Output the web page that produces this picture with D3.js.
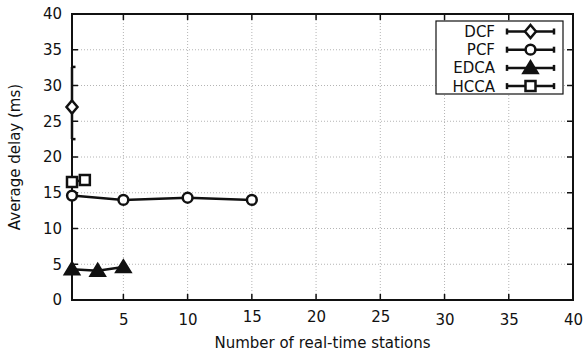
<!DOCTYPE html>
<html>
<head>
<meta charset="utf-8">
<script src="https://cdn.jsdelivr.net/npm/d3@7"></script>
<style>
body { margin: 0; background: #fff; }
</style>
</head>
<body>
<script>
// data
var seriesNames = ["DCF", "PCF", "EDCA", "HCCA"];
var markerTypes = ["diamond", "circle", "triangle", "square"];
var dcfX = [1], dcfY = [27], dcfLow = [22.5], dcfHigh = [32.6];
var pcfX = [1, 5, 10, 15], pcfY = [14.6, 14.0, 14.3, 14.0];
var edcaX = [1, 3, 5], edcaY = [4.3, 4.1, 4.6];
var hccaX = [1, 2], hccaY = [16.5, 16.8];
var xTicks = [5, 10, 15, 20, 25, 30, 35, 40];
var yTicks = [0, 5, 10, 15, 20, 25, 30, 35, 40];

var series = [
  {name: "DCF", x: dcfX, y: dcfY, lo: dcfLow, hi: dcfHigh},
  {name: "PCF", x: pcfX, y: pcfY},
  {name: "EDCA", x: edcaX, y: edcaY},
  {name: "HCCA", x: hccaX, y: hccaY}
];

var W = 587, H = 356;
var margin = {top: 14, right: 14, bottom: 56, left: 72},
    plotW = W - margin.left - margin.right,
    plotH = H - margin.top - margin.bottom;
var ink = "#111";
var fontFam = "DejaVu Sans, sans-serif";

var xs = d3.scaleLinear().domain([1, 40]).range([margin.left, margin.left + plotW]);
var ys = d3.scaleLinear().domain([0, 40]).range([margin.top + plotH, margin.top]);

var svg = d3.select("body").append("svg")
    .attr("width", W).attr("height", H);

// dotted grid
svg.append("g").selectAll("line").data(xTicks.slice(0, -1)).enter().append("line")
    .attr("x1", d => xs(d)).attr("x2", d => xs(d))
    .attr("y1", ys(40)).attr("y2", ys(0))
    .attr("stroke", "#b4b4b4").attr("stroke-width", 1).attr("stroke-dasharray", "1,2");
svg.append("g").selectAll("line").data(yTicks.slice(1, -1)).enter().append("line")
    .attr("y1", d => ys(d)).attr("y2", d => ys(d))
    .attr("x1", xs(1)).attr("x2", xs(40))
    .attr("stroke", "#b4b4b4").attr("stroke-width", 1).attr("stroke-dasharray", "1,2");

// plot frame as four thin filled bars
var x0 = xs(1), x1 = xs(40), y0 = ys(40), y1 = ys(0), bw = 2;
var frame = svg.append("g").attr("fill", ink);
frame.append("rect").attr("x", x0 - bw / 2).attr("y", y0 - bw / 2).attr("width", x1 - x0 + bw).attr("height", bw);
frame.append("rect").attr("x", x0 - bw / 2).attr("y", y1 - bw / 2).attr("width", x1 - x0 + bw).attr("height", bw);
frame.append("rect").attr("x", x0 - bw / 2).attr("y", y0 - bw / 2).attr("width", bw).attr("height", y1 - y0 + bw);
frame.append("rect").attr("x", x1 - bw / 2).attr("y", y0 - bw / 2).attr("width", bw).attr("height", y1 - y0 + bw);

// tick labels from the axes
var ax = svg.append("g").attr("transform", "translate(0," + ys(0) + ")")
    .call(d3.axisBottom(xs).tickValues(xTicks).tickSize(0).tickPadding(14));
var ay = svg.append("g").attr("transform", "translate(" + xs(1) + ",0)")
    .call(d3.axisLeft(ys).tickValues(yTicks).tickSize(0).tickPadding(10));
[ax, ay].forEach(function(a) {
  a.select(".domain").remove();
  a.selectAll("text").style("font-size", "15px").style("font-family", fontFam).attr("fill", ink);
});
// the middle x labels sit a bit higher in the original
ax.selectAll(".tick text").attr("dy", d => (d >= 15 && d <= 25) ? "0.5em" : "0.71em");

// inward tick marks on all four sides
var tickG = svg.append("g");
xTicks.forEach(function(t) {
  [[ys(0), ys(0) - 6], [ys(40), ys(40) + 6]].forEach(function(e) {
    tickG.append("line").attr("x1", xs(t)).attr("x2", xs(t)).attr("y1", e[0]).attr("y2", e[1])
      .attr("stroke", ink).attr("stroke-width", 1.5);
  });
});
yTicks.forEach(function(t) {
  [[xs(1), xs(1) + 6], [xs(40), xs(40) - 6]].forEach(function(e) {
    tickG.append("line").attr("y1", ys(t)).attr("y2", ys(t)).attr("x1", e[0]).attr("x2", e[1])
      .attr("stroke", ink).attr("stroke-width", 1.5);
  });
});

// markers
function marker(sel, type, cx, cy) {
  var s = sel.append("path").attr("fill", type == "triangle" ? ink : "#fff")
      .attr("stroke", ink).attr("stroke-width", 2.5)
      .attr("transform", "translate(" + cx + "," + cy + ")");
  if (type == "diamond") s.attr("d", "M0,-6.5L5.5,0L0,6.5L-5.5,0Z");
  else if (type == "circle") s.attr("d", d3.symbol(d3.symbolCircle, 75)());
  else if (type == "triangle") s.attr("d", "M0,-6.5L7,5L-7,5Z");
  else s.attr("d", "M-5,-5H5V5H-5Z");
}

var lineGen = d3.line().x(d => xs(d[0])).y(d => ys(d[1]));

var plot = svg.append("g");
series.forEach(function(s, si) {
  var pts = s.x.map((v, i) => [v, s.y[i]]);
  if (s.lo) {
    s.x.forEach(function(v, i) {
      plot.append("line").attr("x1", xs(v)).attr("x2", xs(v))
        .attr("y1", ys(s.lo[i])).attr("y2", ys(s.hi[i]))
        .attr("stroke", ink).attr("stroke-width", 2.5);
      [s.lo[i], s.hi[i]].forEach(function(e) {
        plot.append("line").attr("x1", xs(v) - 1).attr("x2", xs(v) + 3.5)
          .attr("y1", ys(e)).attr("y2", ys(e))
          .attr("stroke", ink).attr("stroke-width", 2.5);
      });
    });
  }
  plot.append("path").datum(pts).attr("d", lineGen)
    .attr("fill", "none").attr("stroke", ink).attr("stroke-width", 2.5);
  pts.forEach(function(p) { marker(plot, markerTypes[si], xs(p[0]), ys(p[1])); });
});

// legend
var leg = svg.append("g");
leg.append("rect").attr("x", 436).attr("y", 21).attr("width", 127).attr("height", 73)
    .attr("fill", "#fff").attr("stroke", ink).attr("stroke-width", 1.2);
seriesNames.forEach(function(n, i) {
  var ly = 31.5 + i * 18.2;
  leg.append("text").attr("x", 495).attr("y", ly).attr("dy", "0.36em")
    .attr("text-anchor", "end").style("font-size", "15px").style("font-family", fontFam)
    .attr("fill", ink).text(n);
  leg.append("line").attr("x1", 507).attr("x2", 554).attr("y1", ly).attr("y2", ly)
    .attr("stroke", ink).attr("stroke-width", 2.5);
  [507, 554].forEach(function(ex) {
    leg.append("line").attr("x1", ex).attr("x2", ex).attr("y1", ly - 3).attr("y2", ly + 3)
      .attr("stroke", ink).attr("stroke-width", 2.5);
  });
  marker(leg, markerTypes[i], 530.5, ly);
});

// axis titles
svg.append("text").attr("x", margin.left + plotW / 2).attr("y", 348)
    .attr("text-anchor", "middle").style("font-size", "15px").style("font-family", fontFam)
    .attr("fill", ink).text("Number of real-time stations");
svg.append("text").attr("transform", "translate(20," + (margin.top + plotH / 2) + ") rotate(-90)")
    .attr("text-anchor", "middle").style("font-size", "15px").style("font-family", fontFam)
    .attr("fill", ink).text("Average delay (ms)");
</script>
</body>
</html>
